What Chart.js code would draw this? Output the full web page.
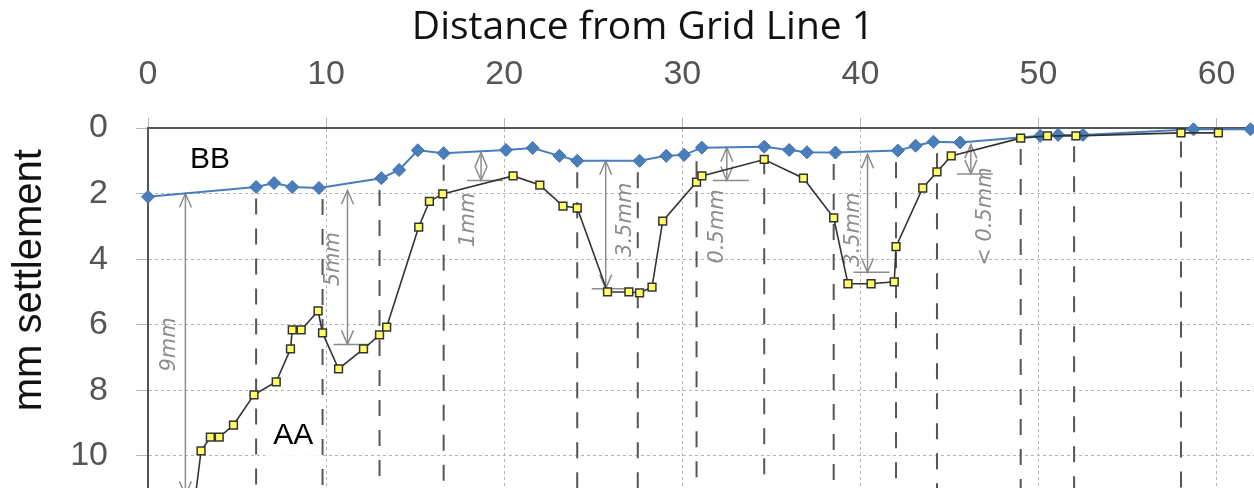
<!DOCTYPE html>
<html><head><meta charset="utf-8">
<script src="https://cdn.jsdelivr.net/npm/chart.js@4/dist/chart.umd.min.js"></script>
<style>html,body{margin:0;padding:0;background:#fff;overflow:hidden}</style>
</head><body>
<canvas id="c" width="1254" height="488"></canvas>
<script>
// Distance from Grid Line 1 (x) and settlement in mm (y)
const bbDist = [0,6.07,7.08,8.1,9.6,13.1,14.1,15.15,16.6,20.1,21.6,23.1,24.1,27.6,29.1,30.1,31.1,34.6,36.0,37.0,38.6,42.1,43.1,44.1,45.6,50.1,51.1,52.5,58.7,61.9];
const bbSettle = [2.1,1.8,1.68,1.8,1.83,1.53,1.28,0.68,0.77,0.67,0.61,0.85,1.0,1.0,0.85,0.82,0.6,0.57,0.67,0.74,0.75,0.69,0.54,0.42,0.44,0.24,0.21,0.21,0.04,0.04];
const aaDist = [2.6,2.98,3.5,4.0,4.8,5.95,7.2,8.0,8.1,8.6,9.55,9.8,10.7,12.1,13.0,13.4,15.2,15.8,16.55,20.5,22.0,23.3,24.1,25.8,27.0,27.6,28.3,28.9,30.8,31.1,34.6,36.8,38.5,39.3,40.6,41.9,42.0,43.5,44.3,45.1,49.0,50.5,52.1,58.0,60.1];
const aaSettle = [11.5,9.85,9.43,9.43,9.06,8.14,7.74,6.74,6.16,6.16,5.58,6.25,7.35,6.74,6.31,6.07,3.02,2.24,2.01,1.46,1.74,2.38,2.44,5.0,5.0,5.03,4.85,2.84,1.65,1.46,0.96,1.53,2.74,4.75,4.75,4.69,3.62,1.83,1.34,0.85,0.31,0.24,0.24,0.15,0.15];
// hand-drawn dashed survey lines (x positions)
const guideDist = [6.07,9.8,13.0,16.6,24.1,27.5,30.8,34.6,38.5,42.0,44.3,49.0,52.0,58.0];
// hand-written difference notes: arrow x, arrow from/to settlement, note text and its position
const noteText = ['9mm','5mm','1mm','3.5mm','0.5mm','3.5mm','< 0.5mm'];
const noteArrowX = [2.1,11.2,18.7,25.7,32.5,40.4,46.2];
const noteFrom = [2.0,1.9,0.75,1.0,0.6,0.8,0.5];
const noteTo = [11.2,6.6,1.6,4.9,1.6,4.4,1.4];
const noteTextX = [1.2,10.4,18.0,26.8,32.0,39.6,47.0];
const noteTextY = [6.6,4.0,2.8,2.8,3.0,3.1,2.7];
const seriesLabels = [{text:'BB', x:3.48, y:0.98},{text:'AA', x:8.15, y:9.39}];
const xTickValues = [0,10,20,30,40,50,60];
const yTickValues = [0,2,4,6,8,10];

const toPts = (xs, ys) => xs.map((x,i)=>({x, y: ys[i]}));

function interpBB(x){
  for(let i=0;i<bbDist.length-1;i++){
    if(x>=bbDist[i] && x<=bbDist[i+1]){
      const t=(x-bbDist[i])/(bbDist[i+1]-bbDist[i]);
      return bbSettle[i]+t*(bbSettle[i+1]-bbSettle[i]);
    }
  }
  return 0;
}

function arrowHead(ctx, px, py, dir){
  ctx.beginPath();
  ctx.moveTo(px-6, py-dir*14);
  ctx.lineTo(px, py);
  ctx.lineTo(px+6, py-dir*14);
  ctx.stroke();
}

const guidePlugin = {
  id:'guides',
  beforeDatasetsDraw(chart){
    const {ctx, chartArea, scales:{x,y}} = chart;
    ctx.save();
    ctx.beginPath();
    ctx.rect(chartArea.left, chartArea.top, chartArea.width, chartArea.height);
    ctx.clip();
    ctx.strokeStyle='#555';
    ctx.lineWidth=2;
    ctx.setLineDash([16,14]);
    guideDist.forEach(g=>{
      const px=x.getPixelForValue(g);
      const top=y.getPixelForValue(interpBB(g)+0.35);
      ctx.beginPath();ctx.moveTo(px,top);ctx.lineTo(px,chartArea.bottom);ctx.stroke();
    });
    // hand-written notes
    ctx.setLineDash([]);
    ctx.strokeStyle='#8c8c8c';
    ctx.fillStyle='#8c8c8c';
    ctx.lineWidth=1.5;
    noteText.forEach((t,i)=>{
      const px=x.getPixelForValue(noteArrowX[i]);
      const y1=y.getPixelForValue(noteFrom[i]), y2=y.getPixelForValue(noteTo[i]);
      ctx.beginPath();ctx.moveTo(px,y1);ctx.lineTo(px,y2);ctx.stroke();
      arrowHead(ctx,px,y1,-1);
      arrowHead(ctx,px,y2,1);
      ctx.beginPath();ctx.moveTo(px-14,y2);ctx.lineTo(px+22,y2);ctx.stroke();
      ctx.save();
      ctx.translate(x.getPixelForValue(noteTextX[i]), y.getPixelForValue(noteTextY[i]));
      ctx.rotate(-Math.PI/2);
      ctx.font='italic 21px "DejaVu Sans", sans-serif';
      ctx.textAlign='center';ctx.textBaseline='middle';
      ctx.fillText(t,0,0);
      ctx.restore();
    });
    ctx.restore();
  },
  afterDatasetsDraw(chart){
    const {ctx, scales:{x,y}} = chart;
    ctx.save();
    ctx.font='30px "Liberation Sans", Arial, sans-serif';
    ctx.textAlign='center';ctx.textBaseline='middle';
    seriesLabels.forEach(l=>{
      const px=x.getPixelForValue(l.x), py=y.getPixelForValue(l.y);
      const w=ctx.measureText(l.text).width;
      ctx.fillStyle='#fff';
      ctx.fillRect(px-w/2-8,py-20,w+16,40);
      ctx.fillStyle='#000';
      ctx.fillText(l.text,px,py);
    });
    ctx.restore();
  }
};

new Chart(document.getElementById('c'), {
  type:'line',
  data:{
    datasets:[
      {label:'BB', data: toPts(bbDist,bbSettle), borderColor:'#4a7ebb', backgroundColor:'#4a7ebb',
       borderWidth:2, pointStyle:'rectRot', pointRadius:6.5, pointBorderWidth:1, pointBorderColor:'#3f6fae', clip:false, order:2},
      {label:'AA', data: toPts(aaDist,aaSettle), borderColor:'#333', backgroundColor:'#ffff66',
       borderWidth:1.6, pointStyle:'rect', pointRadius:5.5, pointBorderWidth:1.5, pointBorderColor:'#333', order:1}
    ]
  },
  options:{
    responsive:false, animation:false, devicePixelRatio:1,
    layout:{autoPadding:false, padding:{left:32, top:0, right:0, bottom:0}},
    plugins:{
      legend:{display:false}, tooltip:{enabled:false},
      title:{display:true, text:'Distance from Grid Line 1', color:'#111',
             font:{family:'"Open Sans", Lato, sans-serif', size:39, weight:'normal', lineHeight:1.0}, padding:{top:8,bottom:0}}
    },
    scales:{
      x:{type:'linear', position:'top', min:0, max:62.1,
         afterBuildTicks(s){ s.ticks = xTickValues.map(v=>({value:v})); },
         afterFit(s){ s.height=81; s.paddingLeft=0; s.paddingRight=0; },
         border:{display:true, color:'#555', width:2, dash:[3,3]},
         grid:{color:'#b5b5b5', lineWidth:1, tickLength:10, drawTicks:true, tickColor:'#b5b5b5'},
         ticks:{color:'#555', font:{family:'"Liberation Sans", Arial, sans-serif', size:34}, padding:23, maxRotation:0}
      },
      y:{type:'linear', reverse:true, min:0, max:10.98,
         afterBuildTicks(s){ s.ticks = yTickValues.map(v=>({value:v})); },
         afterFit(s){ s.width=116; s.paddingTop=0; s.paddingBottom=0; },
         border:{display:true, color:'#555', width:2, dash:[3,3]},
         grid:{color:'#b5b5b5', lineWidth:1, tickLength:12, drawTicks:true, tickColor:'#b5b5b5'},
         ticks:{color:'#555', font:{family:'"Liberation Sans", Arial, sans-serif', size:34}, padding:28},
         title:{display:true, text:'     mm settlement', color:'#111', font:{family:'"Liberation Sans", Arial, sans-serif', size:40}, padding:{top:-26,bottom:0}}
      }
    }
  },
  plugins:[guidePlugin]
});
</script>
</body></html>
